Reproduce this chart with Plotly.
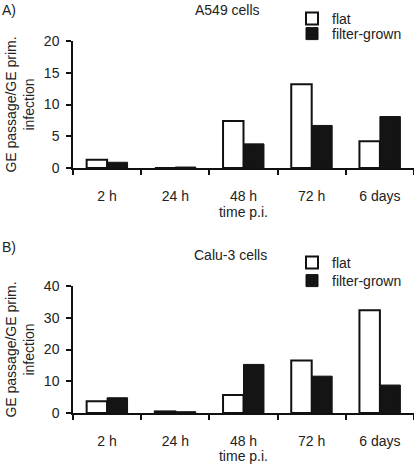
import plotly.graph_objects as go
from plotly.subplots import make_subplots

categories = ["2 h", "24 h", "48 h", "72 h", "6 days"]
a549_flat = [1.3, 0.0, 7.4, 13.2, 4.2]
a549_filter = [0.9, 0.15, 3.8, 6.7, 8.1]
calu3_flat = [3.7, 0.5, 5.7, 16.5, 32.4]
calu3_filter = [4.8, 0.4, 15.3, 11.6, 8.8]

FONT = "Liberation Sans, Arial, sans-serif"
TXT = "#222222"
FS = 14

fig = make_subplots(rows=2, cols=1)

def add_pair(flat, filt, row, leg_flat, leg_filt):
    fig.add_trace(go.Bar(x=categories, y=flat, name="flat", showlegend=True,
                         marker=dict(color="white", line=dict(color="#111111", width=2)),
                         legend=leg_flat), row=row, col=1)
    fig.add_trace(go.Bar(x=categories, y=filt, name="filter-grown", showlegend=True,
                         marker=dict(color="#141414", line=dict(color="#111111", width=1)),
                         legend=leg_filt), row=row, col=1)

add_pair(a549_flat, a549_filter, 1, "legend", "legend2")
add_pair(calu3_flat, calu3_filter, 2, "legend3", "legend4")

H = 464.0
def py(pix):
    return (H - pix) / H

xdom = [73 / 414.0, 1.0]
leg = dict(xanchor="left", yanchor="top", bgcolor="rgba(0,0,0,0)", itemwidth=30,
           tracegroupgap=0, font=dict(family=FONT, size=FS, color=TXT))
LX = 292 / 414.0
fig.update_layout(
    width=414, height=464,
    showlegend=True,
    margin=dict(l=0, r=0, t=0, b=0, autoexpand=False),
    paper_bgcolor="white", plot_bgcolor="white",
    font=dict(family=FONT, size=FS, color=TXT),
    barmode="group", bargap=0.4, bargroupgap=0.0,
    xaxis=dict(domain=xdom, anchor="y"),
    xaxis2=dict(domain=xdom, anchor="y2"),
    yaxis=dict(domain=[py(168), py(41)], anchor="x"),
    yaxis2=dict(domain=[py(413), py(286)], anchor="x2"),
    legend=dict(x=LX, y=py(3.0), **leg),
    legend2=dict(x=LX, y=py(18.0), **leg),
    legend3=dict(x=LX, y=py(247.0), **leg),
    legend4=dict(x=LX, y=py(265.0), **leg),
)

xcommon = dict(showline=True, linecolor="#111111", linewidth=1.5, ticks="outside",
               tickson="boundaries", ticklen=5, tickcolor="#111111", tickwidth=1.5,
               showgrid=False, zeroline=False, range=[-0.5, 4.5],
               ticklabelstandoff=14, tickfont=dict(size=FS, color=TXT),
               title=dict(text="time p.i.", standoff=3, font=dict(size=FS, color=TXT)))
fig.update_xaxes(**xcommon)
ycommon = dict(showline=True, linecolor="#111111", linewidth=1.5, ticks="outside",
               ticklen=5, tickcolor="#111111", tickwidth=1.5, showgrid=False,
               zeroline=False, ticklabelstandoff=4, tickfont=dict(size=FS, color=TXT),
               title=dict(text="GE passage/GE prim.<br>infection", standoff=6,
                          font=dict(size=FS, color=TXT)))
fig.update_yaxes(**ycommon)
fig.update_yaxes(range=[0, 20], dtick=5, row=1, col=1)
fig.update_yaxes(range=[0, 40], dtick=10, row=2, col=1)

anns = [
    dict(text="A)", x=0, y=py(10), xanchor="left", yanchor="middle"),
    dict(text="B)", x=0, y=py(247), xanchor="left", yanchor="middle"),
    dict(text="A549 cells", x=227 / 414.0, y=py(10), xanchor="center", yanchor="middle"),
    dict(text="Calu-3 cells", x=230 / 414.0, y=py(255), xanchor="center", yanchor="middle"),
]
for a in anns:
    fig.add_annotation(xref="paper", yref="paper", showarrow=False,
                       font=dict(family=FONT, size=FS, color=TXT), **a)

fig.write_html("out.html", config={"displayModeBar": False},
               post_script="document.body.style.margin='0';document.body.style.padding='0';")
